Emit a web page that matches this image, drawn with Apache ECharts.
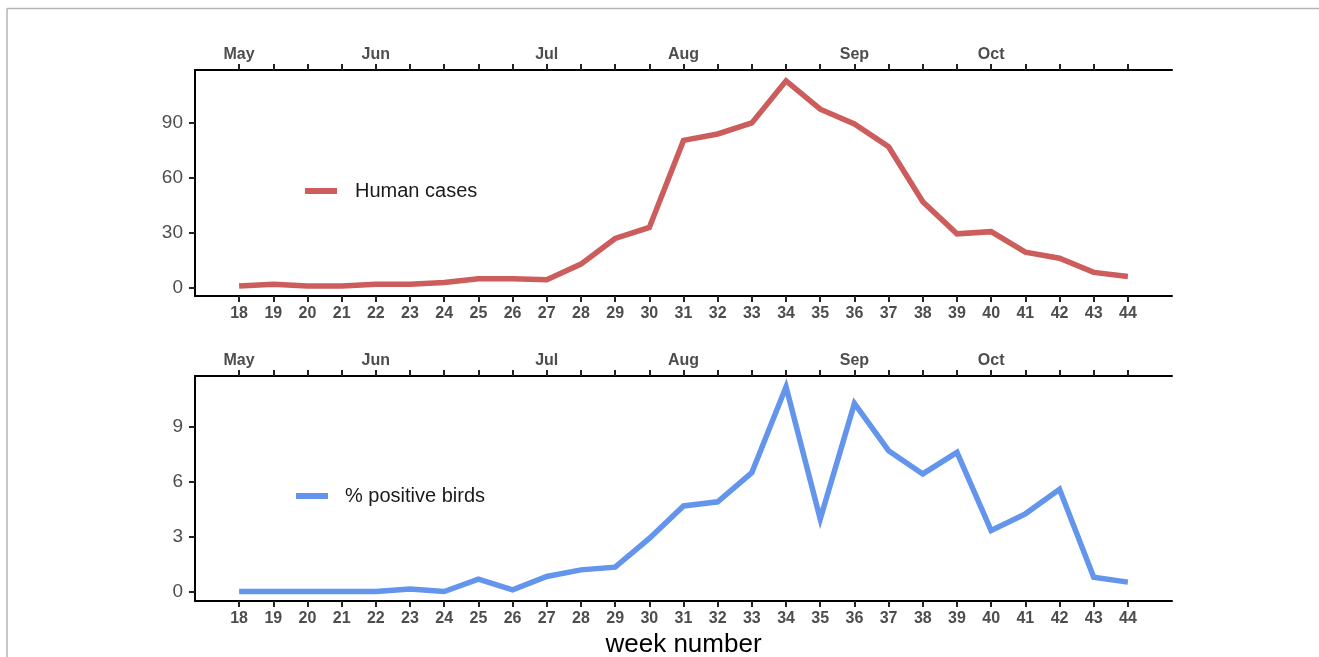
<!DOCTYPE html>
<html>
<head>
<meta charset="utf-8">
<script src="https://cdn.jsdelivr.net/npm/echarts@6/dist/echarts.min.js"></script>
<style>
  html, body { margin: 0; padding: 0; background: #fff; }
  #chart { width: 1319px; height: 657px; }
</style>
</head>
<body>
<div id="chart"></div>
<script>
// Epidemiological week numbers on the x axis
const weeks = [18,19,20,21,22,23,24,25,26,27,28,29,30,31,32,33,34,35,36,37,38,39,40,41,42,43,44];

// Weekly counts of human cases
const humanCases = [1,2,1,1,2,2,3,5,5,4.5,13,27,33,80.5,84,90,113,97.5,89.5,77,47,29.5,30.7,19.5,16.2,8.5,6.2];

// Weekly percentage of positive birds
const positiveBirds = [0,0,0,0,0,0.13,0,0.67,0.09,0.82,1.18,1.33,2.9,4.67,4.9,6.5,11.18,3.96,10.27,7.69,6.42,7.6,3.33,4.24,5.58,0.78,0.51];

// First week of each month, shown along the top axis
const monthWeeks = [18, 22, 27, 31, 36, 40];
const monthNames = ['May', 'Jun', 'Jul', 'Aug', 'Sep', 'Oct'];

// Y axis tick values for each panel
const humanTicks = [0, 30, 60, 90];
const birdTicks = [0, 3, 6, 9];

const FONT = '"Liberation Sans", Arial, Helvetica, sans-serif';
const AXIS_GREY = '#4d4d4d';

const xMin = 16.71, xMax = 45.29;

function pairs(vals) { return weeks.map((w, i) => [w, vals[i]]); }

function bottomX(gridIndex, extra) {
  return Object.assign({
    type: 'value', gridIndex, position: 'bottom', min: xMin, max: xMax,
    axisLine: { show: true, onZero: false, lineStyle: { color: '#000', width: 2 } },
    axisTick: { show: true, customValues: weeks, length: 6, lineStyle: { color: '#222', width: 2 } },
    axisLabel: { customValues: weeks, margin: 10, color: AXIS_GREY, fontSize: 16, fontWeight: 'bold', fontFamily: FONT },
    splitLine: { show: false }
  }, extra || {});
}

function topX(gridIndex) {
  return {
    type: 'value', gridIndex, position: 'top', min: xMin, max: xMax,
    axisLine: { show: true, onZero: false, lineStyle: { color: '#000', width: 2 } },
    axisTick: { show: true, customValues: weeks, length: 6, lineStyle: { color: '#222', width: 2 } },
    axisLabel: {
      customValues: monthWeeks, margin: 7, color: AXIS_GREY, fontSize: 16, fontWeight: 'bold', fontFamily: FONT,
      formatter: v => monthNames[monthWeeks.indexOf(Math.round(v))] || ''
    },
    splitLine: { show: false }
  };
}

function leftY(gridIndex, min, max, ticks) {
  return {
    type: 'value', gridIndex, min, max,
    axisLine: { show: true, onZero: false, lineStyle: { color: '#000', width: 2 } },
    axisTick: { show: true, customValues: ticks, length: 6, lineStyle: { color: '#222', width: 2 } },
    axisLabel: { customValues: ticks, margin: 12, color: AXIS_GREY, fontSize: 19, fontFamily: FONT },
    splitLine: { show: false }
  };
}

const chart = echarts.init(document.getElementById('chart'), null, { renderer: 'canvas' });

chart.setOption({
  animation: false,
  backgroundColor: '#fff',
  graphic: [
    // thin grey frame along the top and left edges
    { type: 'line', shape: { x1: 7, y1: 8.5, x2: 1319, y2: 8.5 }, style: { stroke: '#b4b4b4', lineWidth: 1.5 } },
    { type: 'line', shape: { x1: 7, y1: 8.5, x2: 7, y2: 657 }, style: { stroke: '#b4b4b4', lineWidth: 1.5 } }
  ],
  grid: [
    { left: 195, right: 147, top: 70, height: 226, outerBoundsMode: 'none' },
    { left: 195, right: 147, top: 376, height: 225, outerBoundsMode: 'none' }
  ],
  legend: [
    {
      data: ['Human cases'], left: 305, top: 181, padding: 0, icon: 'rect', itemWidth: 32, itemHeight: 6,
      textStyle: { fontSize: 20, color: '#1a1a1a', fontFamily: FONT, padding: [0, 0, 0, 13] }
    },
    {
      data: ['% positive birds'], left: 296, top: 486, padding: 0, icon: 'rect', itemWidth: 32, itemHeight: 6,
      textStyle: { fontSize: 20, color: '#1a1a1a', fontFamily: FONT, padding: [0, 0, 0, 12] }
    }
  ],
  xAxis: [
    bottomX(0),
    topX(0),
    bottomX(1, {
      name: 'week number', nameLocation: 'middle', nameGap: 31,
      nameTextStyle: { fontSize: 26, color: '#000', fontFamily: FONT }
    }),
    topX(1)
  ],
  yAxis: [
    leftY(0, -4.4, 118.9, humanTicks),
    leftY(1, -0.52, 11.77, birdTicks)
  ],
  series: [
    {
      name: 'Human cases', type: 'line', xAxisIndex: 0, yAxisIndex: 0,
      data: pairs(humanCases), showSymbol: false, symbol: 'none',
      lineStyle: { color: '#CD5C5C', width: 5.5, join: 'miter' }, itemStyle: { color: '#CD5C5C' }
    },
    {
      name: '% positive birds', type: 'line', xAxisIndex: 2, yAxisIndex: 1,
      data: pairs(positiveBirds), showSymbol: false, symbol: 'none',
      lineStyle: { color: '#6495ED', width: 5.5, join: 'miter' }, itemStyle: { color: '#6495ED' }
    }
  ]
});
</script>
</body>
</html>
